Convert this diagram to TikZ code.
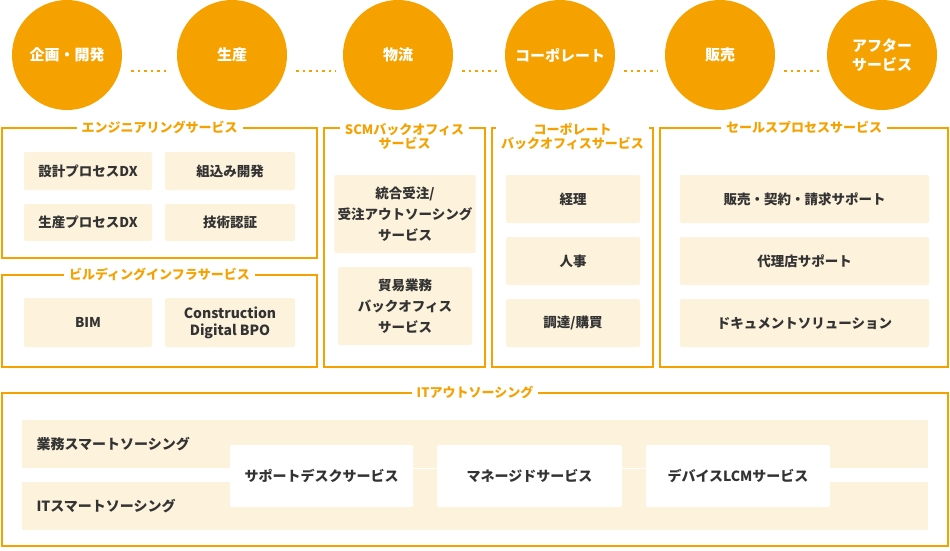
\documentclass[tikz,border=0pt]{standalone}
\usepackage{fontspec}
\setmainfont{Noto Sans CJK JP}
\usetikzlibrary{positioning}
\definecolor{orng}{HTML}{F5A200}
\definecolor{cream}{HTML}{FDF3DC}
\definecolor{txt}{HTML}{333333}
\begin{document}
\begin{tikzpicture}[x=1pt, y=-1pt,
    phase/.style={circle, fill=orng, minimum size=110pt, inner sep=0pt, align=center, text=white, font=\fontsize{15}{19}\selectfont\bfseries},
    group/.style={rectangle, draw=orng, line width=2pt, fill=white},
    glabel/.style={fill=white, inner xsep=5pt, inner ysep=0pt, text=orng, align=center, font=\fontsize{13}{14}\selectfont\bfseries},
    item/.style={rectangle, rounded corners=2pt, fill=cream, align=center, text=txt, font=\fontsize{13.5}{21}\selectfont\bfseries},
    band/.style={rectangle, fill=cream, minimum width=906pt, minimum height=48pt},
    svc/.style={rectangle, fill=white, rounded corners=2pt, text=txt, minimum height=62pt, font=\fontsize{14}{16}\selectfont\bfseries},
    dots/.style={orng, line width=2.5pt, dash pattern=on 2.5pt off 4pt, shorten <=9pt, shorten >=7pt}
]
\useasboundingbox (0,0) rectangle (950,550);

% Phases
\node[phase] (plan) at (67,55) {企画・開発};
\node[phase] (prod) at (232,55) {生産};
\node[phase] (logi) at (398,55) {物流};
\node[phase] (corp) at (560,55) {コーポレート};
\node[phase] (sale) at (720,55) {販売};
\node[phase] (after) at (882,55) {アフター\\サービス};
\foreach \a/\b in {plan/prod, prod/logi, logi/corp, corp/sale, sale/after}
  \draw[dots] ([yshift=-16pt]\a.east) -- ([yshift=-16pt]\b.west);

% Groups
\node[group, minimum width=315pt, minimum height=130pt] (eng) at (159.5,193) {};
\node[glabel] at (eng.north) {エンジニアリングサービス};
\node[group, minimum width=315pt, minimum height=92pt] (bld) at (159.5,321) {};
\node[glabel] at (bld.north) {ビルディングインフラサービス};
\node[group, minimum width=161pt, minimum height=239pt] (scm) at (404.5,247.5) {};
\node[glabel, anchor=north] at ([yshift=4pt]scm.north) {SCMバックオフィス\\サービス};
\node[group, minimum width=161pt, minimum height=239pt] (cbo) at (572.5,247.5) {};
\node[glabel, anchor=north] at ([yshift=4pt]cbo.north) {コーポレート\\バックオフィスサービス};
\node[group, minimum width=288pt, minimum height=239pt] (sls) at (804,247.5) {};
\node[glabel] at (sls.north) {セールスプロセスサービス};
\node[group, minimum width=946pt, minimum height=153pt] (ito) at (475,469.5) {};
\node[glabel] at (ito.north) {ITアウトソーシング};

% Items
\node[item, minimum width=128pt, minimum height=38pt] (dx1) at (88,171) {設計プロセスDX};
\node[item, minimum width=130pt, minimum height=38pt] (emb) at (230,171) {組込み開発};
\node[item, minimum width=128pt, minimum height=37pt] (dx2) at (88,222.5) {生産プロセスDX};
\node[item, minimum width=130pt, minimum height=37pt] (cert) at (230,222.5) {技術認証};
\node[item, minimum width=128pt, minimum height=49pt] (bim) at (88,322.5) {BIM};
\node[item, minimum width=130pt, minimum height=49pt, font=\fontsize{14}{17}\selectfont\bfseries] (cdb) at (230,322.5) {Construction\\Digital BPO};
\node[item, minimum width=134pt, minimum height=78pt] (ord) at (405,214) {統合受注/\\受注アウトソーシング\\サービス};
\node[item, minimum width=134pt, minimum height=78pt] (trd) at (405,306) {貿易業務\\バックオフィス\\サービス};
\node[item, minimum width=134pt, minimum height=48pt] (acc) at (573,199) {経理};
\node[item, minimum width=134pt, minimum height=48pt] (hr) at (573,261) {人事};
\node[item, minimum width=134pt, minimum height=48pt] (buy) at (573,323) {調達/購買};
\node[item, minimum width=249pt, minimum height=48pt] (ctr) at (804.5,199) {販売・契約・請求サポート};
\node[item, minimum width=249pt, minimum height=48pt] (agt) at (804.5,261) {代理店サポート};
\node[item, minimum width=249pt, minimum height=48pt] (doc) at (804.5,323) {ドキュメントソリューション};

% IT outsourcing
\node[band] (bizrow) at (475,444) {};
\node[band] (itrow) at (475,506) {};
\node[anchor=west, text=txt, font=\fontsize{14}{16}\selectfont\bfseries] at (33,444) {業務スマートソーシング};
\node[anchor=west, text=txt, font=\fontsize{14}{16}\selectfont\bfseries] at (33,506) {ITスマートソーシング};
\node[svc, minimum width=183pt] (desk) at (321.5,476) {サポートデスクサービス};
\node[svc, minimum width=185pt] (mng) at (529.5,476) {マネージドサービス};
\node[svc, minimum width=184pt] (lcm) at (738,476) {デバイスLCMサービス};
\draw[cream, line width=14pt] (desk) -- (mng);
\draw[cream, line width=14pt] (mng) -- (lcm);
\end{tikzpicture}
\end{document}
